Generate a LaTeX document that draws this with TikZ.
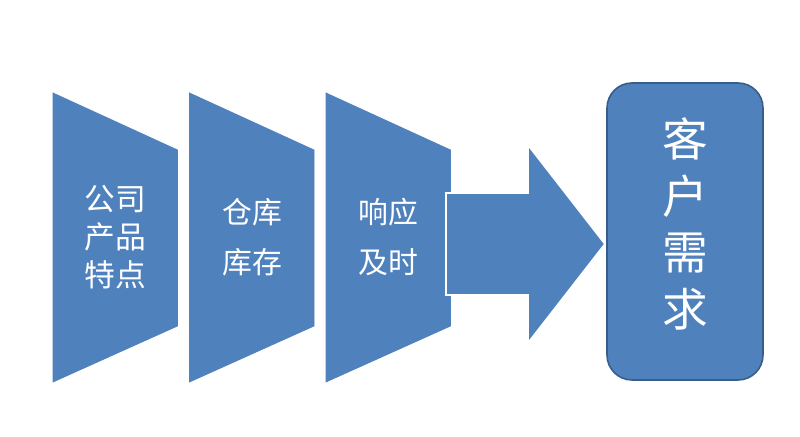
\documentclass[tikz,border=0pt]{standalone}
\usepackage{fontspec}
\newfontfamily\cjk{Noto Sans CJK SC}
\definecolor{boxblue}{HTML}{4F81BD}
\definecolor{edgeblue}{HTML}{385D8A}
\tikzset{
  funnel/.style={fill=boxblue, draw=boxblue},
  small text/.style={text=white, align=center, font=\cjk\fontsize{17.5}{21.6}\selectfont},
  mid text/.style={text=white, align=center, font=\cjk\fontsize{17}{28.5}\selectfont},
  big text/.style={text=white, align=center, font=\cjk\fontsize{26}{32.4}\selectfont},
}
\begin{document}
\begin{tikzpicture}[x=0.2mm, y=-0.2mm]
    \useasboundingbox[fill=white] (0,0) rectangle (800,437);

    % Three funnel blocks
    \foreach \x in {53, 189.5, 326}
        \draw[funnel] (\x,93) -- (\x+124.5,150) -- (\x+124.5,326) -- (\x,382) -- cycle;
    \node[small text] (product) at (115.5,237) {公司\\产品\\特点};
    \node[mid text] (stock) at (252,237) {仓库\\库存};
    \node[mid text] (response) at (388.5,237) {响应\\及时};

    % Block arrow
    \draw[fill=boxblue, draw=white, line width=1pt]
        (446,193) -- (528,193) -- (528,145) -- (605,244) -- (528,343) -- (528,295) -- (446,295) -- cycle;

    % Customer demand box
    \draw[fill=boxblue, draw=edgeblue, line width=0.9pt, rounded corners=5mm] (607,83) rectangle (763,380);
    \node[big text] (demand) at (685,224) {客\\户\\需\\求};
\end{tikzpicture}
\end{document}
